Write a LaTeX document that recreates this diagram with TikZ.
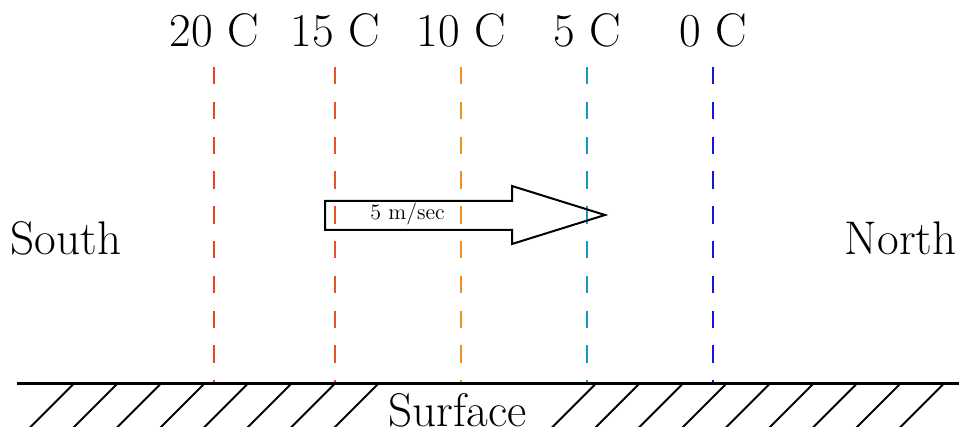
\documentclass[tikz,border=0pt]{standalone}
\begin{document}
\begin{tikzpicture}[x=0.5pt,y=-0.5pt,
  big/.style={font=\fontsize{23.6}{28}\selectfont, inner sep=0pt},
  small/.style={font=\fontsize{11}{13}\selectfont, inner sep=0pt},
  iso/.style={line width=1pt, dash pattern=on 8.7pt off 8.7pt},
  ground/.style={line width=1.2pt},
  hatch/.style={line width=1pt},
  arrowbox/.style={line width=1pt, line join=miter}]
\definecolor{cA}{RGB}{238,64,30}
\definecolor{cB}{RGB}{226,86,38}
\definecolor{cC}{RGB}{240,142,32}
\definecolor{cD}{RGB}{24,152,192}
\definecolor{cE}{RGB}{22,22,222}
\useasboundingbox (0,0) rectangle (959,427);
\clip (0,0) rectangle (959,427);
% isotherms
\foreach \x/\t/\c/\n in {214/20/cA/a, 335/15/cB/b, 461/10/cC/c, 587/5/cD/d, 713/0/cE/e}{
  \node[big, anchor=base] (lab\n) at (\x,47) {\t{} C};
  \coordinate (top\n) at (\x,67);
  \coordinate (bot\n) at (\x,383);
  \draw[iso, draw=\c] (top\n) -- (bot\n);
}
% side labels
\node[big, anchor=base west] (south) at (10,255) {South};
\node[big, anchor=base east] (north) at (957,255) {North};
% ground
\coordinate (gl) at (17,383.5);
\coordinate (gr) at (960,383.5);
\draw[ground] (gl) -- (gr);
\foreach \k in {0,...,7,12,13,...,20}{
  \draw[hatch] ({73+43.5*\k},384.5) -- ({73+43.5*\k-46},430.5);
}
\node[big, anchor=base] (surface) at (457.5,426) {Surface};
% wind arrow
\draw[arrowbox] (325,201) -- (512,201) -- (512,186) -- (605,215) -- (512,244) -- (512,230) -- (325,230) -- cycle;
\node[small, anchor=base] (wind) at (407.5,220) {5 m/sec};
\end{tikzpicture}
\end{document}
